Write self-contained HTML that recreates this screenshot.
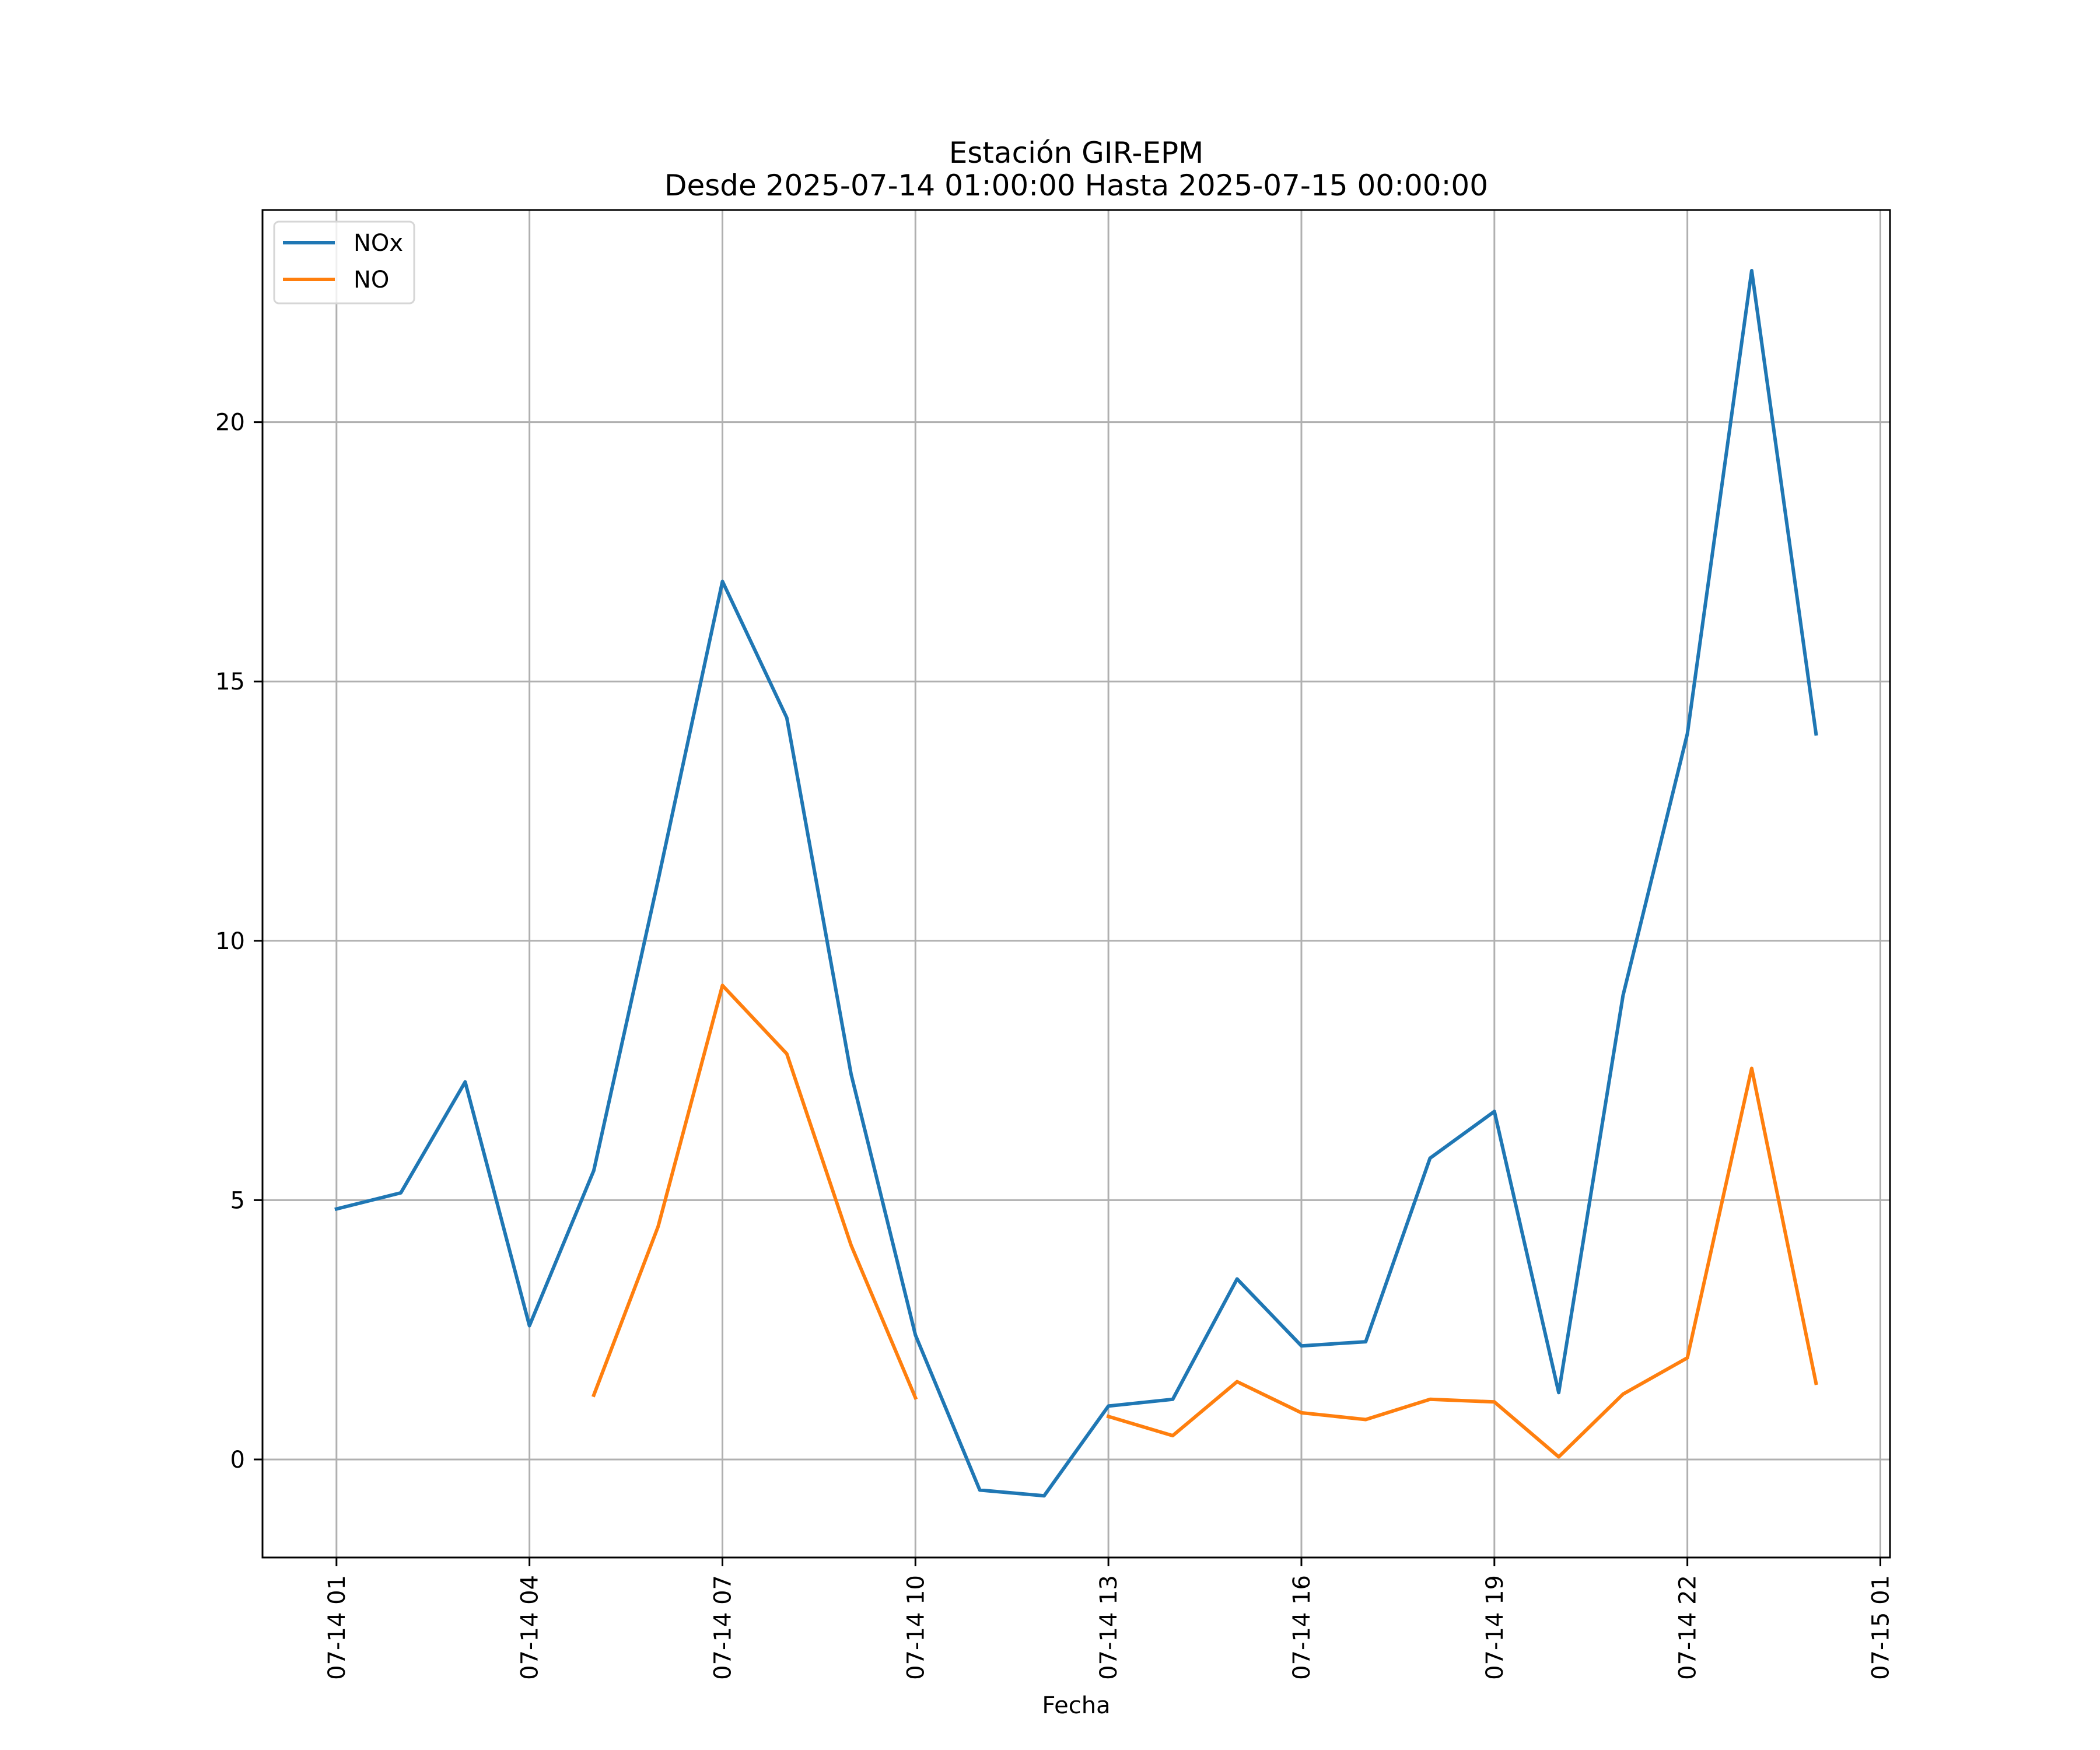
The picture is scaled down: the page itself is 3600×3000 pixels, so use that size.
<!DOCTYPE html>
<html><head><meta charset="utf-8"><style>
html,body{margin:0;padding:0;background:#fff;}
svg{display:block;font-family:"DejaVu Sans","Liberation Sans",sans-serif;}
</style></head><body>
<svg id="chart" width="3600" height="3000" viewBox="0 0 3600 3000" xmlns="http://www.w3.org/2000/svg">
<rect x="0" y="0" width="3600" height="3000" fill="#fff"/>
<text x="1845" y="279" font-size="50" text-anchor="middle">Estación GIR-EPM</text>
<text x="1845" y="335" font-size="50" text-anchor="middle">Desde 2025-07-14 01:00:00 Hasta 2025-07-15 00:00:00</text>
<g id="grid"></g>
<g id="series"></g>
<rect x="450" y="360" width="2790" height="2310" fill="none" stroke="#000" stroke-width="3"/>
<g id="ticks"></g>
<text x="1845" y="2937" font-size="40" text-anchor="middle">Fecha</text>
<g>
<rect x="470" y="380" width="240" height="140" rx="8" fill="#fff" fill-opacity="0.8" stroke="#d6d6d6" stroke-width="3"/>
<line x1="485" y1="416" x2="574" y2="416" stroke="#1f77b4" stroke-width="6"/>
<text x="606" y="430" font-size="40">NOx</text>
<line x1="485" y1="479" x2="574" y2="479" stroke="#ff7f0e" stroke-width="6"/>
<text x="606" y="493" font-size="40">NO</text>
</g>
</svg>
<script>
const hours = [1,2,3,4,5,6,7,8,9,10,11,12,13,14,15,16,17,18,19,20,21,22,23,24];
const noxValues = [4.83,5.14,7.28,2.58,5.57,11.17,16.93,14.3,7.43,2.4,-0.59,-0.70,1.03,1.16,3.48,2.19,2.27,5.81,6.71,1.29,8.95,13.99,22.92,13.99];
const noValues = [null,null,null,null,1.24,4.49,9.14,7.82,4.13,1.19,null,null,0.83,0.46,1.5,0.9,0.77,1.16,1.11,0.05,1.26,1.96,7.54,1.47];
const xTickHours = [1,4,7,10,13,16,19,22,25];
const xTickLabels = ["07-14 01","07-14 04","07-14 07","07-14 10","07-14 13","07-14 16","07-14 19","07-14 22","07-15 01"];
const yTickValues = [0,5,10,15,20];
const yTickLabels = ["0","5","10","15","20"];

const NS = "http://www.w3.org/2000/svg";
const X0=450, X1=3240, Y0=2670, Y1=360;
const xMin=-0.15, xMax=25.15, yMin=-1.89, yMax=24.09;
function xs(h){return X0+(h-xMin)/(xMax-xMin)*(X1-X0);}
function ys(v){return Y0-(v-yMin)/(yMax-yMin)*(Y0-Y1);}
function mk(tag, attrs, parent){const e=document.createElementNS(NS,tag);for(const k in attrs)e.setAttribute(k,attrs[k]);parent.appendChild(e);return e;}
const grid=document.getElementById('grid'), ticks=document.getElementById('ticks'), series=document.getElementById('series');

xTickHours.forEach((h,i)=>{
  const x=xs(h);
  const g=mk('line',{x1:x,y1:Y1,x2:x,y2:Y0,stroke:'#b0b0b0','stroke-width':3},grid);
  
  
  const t=mk('line',{x1:x,y1:Y0,x2:x,y2:Y0+15,stroke:'#000','stroke-width':3},ticks);
  
  
  const lb=mk('text',{x:0,y:0,'font-size':40,'text-anchor':'end',transform:`translate(${x+14},${Y0+30}) rotate(-90)`},ticks);
  lb.textContent=xTickLabels[i];
  
  
});
yTickValues.forEach((v,i)=>{
  const y=ys(v);
  const g=mk('line',{x1:X0,y1:y,x2:X1,y2:y,stroke:'#b0b0b0','stroke-width':3},grid);
  
  
  const t=mk('line',{x1:X0-15,y1:y,x2:X0,y2:y,stroke:'#000','stroke-width':3},ticks);
  
  
  const lb=mk('text',{x:X0-30,y:y+14,'font-size':40,'text-anchor':'end'},ticks);
  lb.textContent=yTickLabels[i];
  
  
});
function drawSeries(vals,color,name){
  let segs=[],cur=[];
  vals.forEach((v,i)=>{if(v===null){if(cur.length)segs.push(cur);cur=[];}else cur.push(xs(hours[i]).toFixed(1)+','+ys(v).toFixed(1));});
  if(cur.length)segs.push(cur);
  segs.forEach(s=>{
    const p=mk('polyline',{points:s.join(' '),fill:'none',stroke:color,'stroke-width':6,'stroke-linejoin':'round','stroke-linecap':'square'},series);
    
    
  });
}
drawSeries(noxValues,'#1f77b4','nox-line');
drawSeries(noValues,'#ff7f0e','no-line');
</script>
</body></html>
